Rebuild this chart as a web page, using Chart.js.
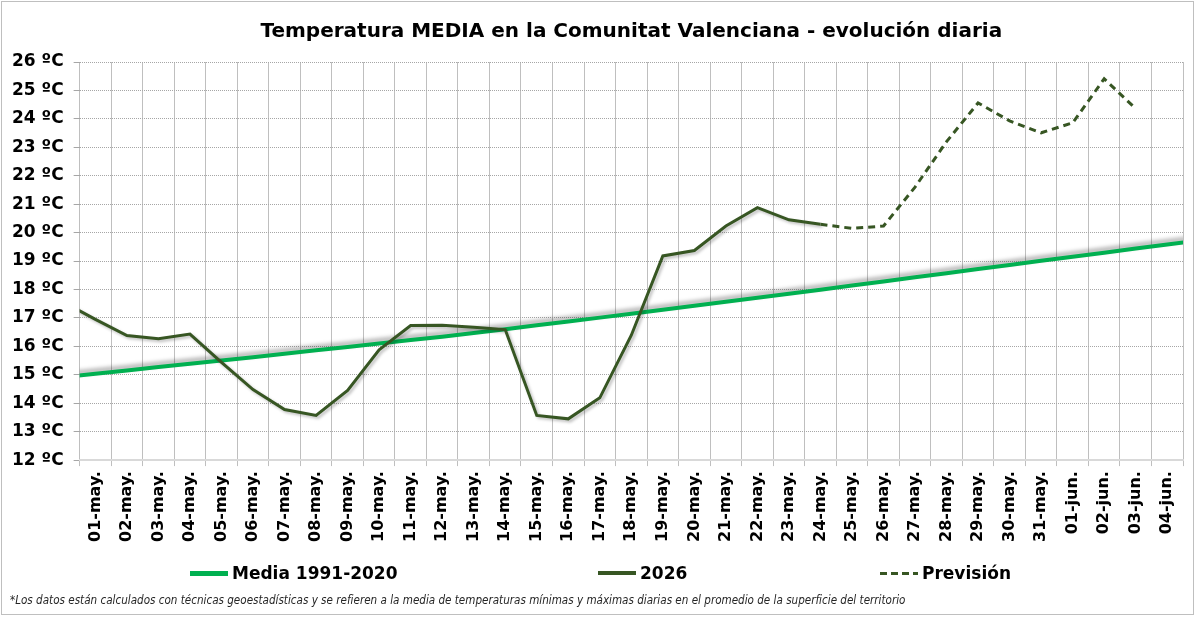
<!DOCTYPE html>
<html lang="es">
<head>
<meta charset="utf-8">
<title>Temperatura MEDIA en la Comunitat Valenciana</title>
<script src="https://cdn.jsdelivr.net/npm/chart.js@4.4.1/dist/chart.umd.min.js"></script>
<style>
    body { margin: 0; background: #fff; }
    #wrap { position: relative; width: 1199px; height: 617px; background: #fff; }
    #legend { position: absolute; left: 0; top: 563px; width: 1199px; height: 24px; }
    .lg-item { position: absolute; top: 0; display: flex; align-items: center; font: bold 17px "DejaVu Sans", Verdana, sans-serif; color: #000; white-space: nowrap; }
    .lg-line { display: inline-block; width: 38px; margin-right: 4px; }
    #note { position: absolute; left: 10px; top: 592px; font: italic 13px "Liberation Sans Narrow", "DejaVu Sans Condensed", sans-serif; color: #262626; white-space: nowrap; transform: scaleX(0.89); transform-origin: 0 0; }
    #frame { position: absolute; left: 1px; top: 1px; width: 1193px; height: 614px; box-sizing: border-box; border: 1px solid #bfbfbf; pointer-events: none; }
</style>
</head>
<body>
<div id="wrap">
    <canvas id="tempChart"></canvas>
    <div id="legend"></div>
    <div id="note">*Los datos están calculados con técnicas geoestadísticas y se refieren a la media de temperaturas mínimas y máximas diarias en el promedio de la superficie del territorio</div>
    <div id="frame"></div>
</div>
<script>
// Days: first and last entries sit just outside the visible axis (lines run edge to edge)
const days = [
    '30-abr.',
    '01-may.', '02-may.', '03-may.', '04-may.', '05-may.', '06-may.', '07-may.', '08-may.',
    '09-may.', '10-may.', '11-may.', '12-may.', '13-may.', '14-may.', '15-may.', '16-may.',
    '17-may.', '18-may.', '19-may.', '20-may.', '21-may.', '22-may.', '23-may.', '24-may.',
    '25-may.', '26-may.', '27-may.', '28-may.', '29-may.', '30-may.', '31-may.',
    '01-jun.', '02-jun.', '03-jun.', '04-jun.',
    '05-jun.'
];

// Media 1991-2020, 30-abr .. 05-jun
const media = [
    14.92, 15.04, 15.15, 15.27, 15.39, 15.50, 15.62, 15.74, 15.86, 15.98,
    16.10, 16.22, 16.34, 16.47, 16.60, 16.74, 16.87, 17.01, 17.15, 17.29,
    17.43, 17.57, 17.71, 17.85, 17.99, 18.14, 18.28, 18.43, 18.57, 18.72,
    18.86, 19.01, 19.15, 19.29, 19.44, 19.58, 19.72
];

// 2026 observed, 30-abr .. 24-may
const obs2026 = [
    17.55, 16.95, 16.38, 16.27, 16.43, 15.44, 14.48, 13.78, 13.57, 14.45,
    15.88, 16.73, 16.74, 16.67, 16.59, 13.57, 13.45, 14.19, 16.39, 19.18,
    19.37, 20.23, 20.88, 20.45, 20.29
];

// Forecast, 24-may .. 03-jun
const prevision = [20.29, 20.15, 20.23, 21.6, 23.2, 24.56, 23.93, 23.51, 23.86, 25.41, 24.36];

const yMin = 12;
const yMax = 26;

const FONT = '"DejaVu Sans", Verdana, sans-serif';

function toPoints(values, firstDay) {
    const start = days.indexOf(firstDay);
    return values.map((v, k) => ({ x: start + k - 1, y: v }));
}

// soft drop shadow under selected lines
const lineShadow = {
    id: 'lineShadow',
    beforeDatasetDraw(chart, args) {
        const s = chart.data.datasets[args.index].shadow;
        if (!s) return;
        const ctx = chart.ctx;
        ctx.save();
        ctx.shadowColor = s.color;
        ctx.shadowBlur = s.blur;
        ctx.shadowOffsetX = s.x;
        ctx.shadowOffsetY = s.y;
    },
    afterDatasetDraw(chart, args) {
        if (chart.data.datasets[args.index].shadow) chart.ctx.restore();
    }
};

const chart = new Chart(document.getElementById('tempChart'), {
    type: 'line',
    data: {
        datasets: [{
            label: 'Media 1991-2020',
            data: toPoints(media, '30-abr.'),
            borderColor: '#00B050',
            borderWidth: 4,
            order: 2,
            shadow: { color: 'rgba(0,0,0,0.35)', blur: 4, x: 0, y: -3 }
        }, {
            label: '2026',
            data: toPoints(obs2026, '30-abr.'),
            borderColor: '#375623',
            borderWidth: 3,
            order: 1,
            shadow: { color: 'rgba(0,0,0,0.25)', blur: 3, x: 2, y: 2 }
        }, {
            label: 'Previsión',
            data: toPoints(prevision, '24-may.'),
            borderColor: '#375623',
            borderWidth: 3,
            borderDash: [7, 5],
            order: 0
        }]
    },
    options: {
        responsive: true,
        maintainAspectRatio: false,
        animation: false,
        layout: {
            padding: { left: 2, right: 16, top: 0, bottom: 70 }
        },
        elements: {
            point: { radius: 0 },
            line: { tension: 0, fill: false }
        },
        datasets: {
            line: { clip: 0 }
        },
        plugins: {
            legend: { display: false },
            tooltip: { enabled: false },
            title: {
                display: true,
                text: 'Temperatura MEDIA en la Comunitat Valenciana - evolución diaria',
                fullSize: false,
                color: '#000',
                font: { family: FONT, size: 20, weight: 'bold' },
                padding: { top: 20, bottom: 18 }
            }
        },
        scales: {
            x: {
                type: 'linear',
                min: -0.5,
                max: days.length - 2.5,
                afterBuildTicks: scale => {
                    scale.ticks = days.slice(1, -1).map((d, i) => ({ value: i }));
                },
                ticks: {
                    autoSkip: false,
                    minRotation: 90,
                    maxRotation: 90,
                    padding: 5,
                    color: '#000',
                    font: { family: FONT, size: 16, weight: 'bold' },
                    callback: v => days[v + 1]
                },
                grid: {
                    offset: true,
                    color: '#bfbfbf',
                    lineWidth: 1,
                    tickLength: 6
                },
                border: { color: '#d9d9d9', width: 2 }
            },
            y: {
                min: yMin,
                max: yMax,
                ticks: {
                    stepSize: 1,
                    padding: 10,
                    color: '#000',
                    font: { family: FONT, size: 17, weight: 'bold' },
                    callback: v => v + ' ºC'
                },
                grid: {
                    color: '#a6a6a6',
                    lineWidth: 1,
                    tickLength: 6
                },
                border: { display: false, dash: [1, 1] }
            }
        }
    },
    plugins: [lineShadow]
});

// Legend built from the datasets, spread out like the original
const legendLeft = [190, 598, 880];
const legendBox = document.getElementById('legend');
chart.data.datasets.forEach((ds, i) => {
    const item = document.createElement('div');
    item.className = 'lg-item';
    item.style.left = legendLeft[i] + 'px';
    const line = document.createElement('span');
    line.className = 'lg-line';
    if (ds.borderDash) {
        line.style.height = '3px';
        line.style.background = `repeating-linear-gradient(90deg, ${ds.borderColor} 0 7px, transparent 7px 11px)`;
    } else {
        line.style.height = (ds.borderWidth + 1) + 'px';
        line.style.background = ds.borderColor;
    }
    const txt = document.createElement('span');
    txt.textContent = ds.label;
    item.appendChild(line);
    item.appendChild(txt);
    legendBox.appendChild(item);
});
</script>
</body>
</html>
